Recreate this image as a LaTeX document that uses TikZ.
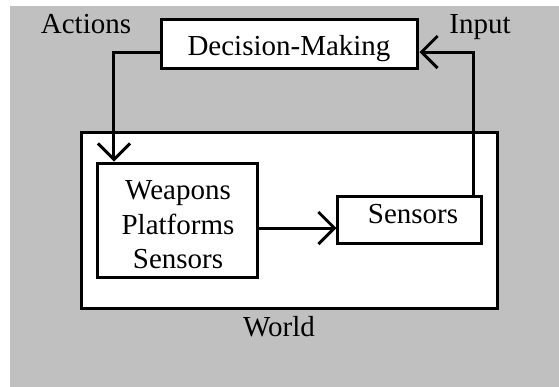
\documentclass[tikz,border=0pt]{standalone}
\usepackage{fontspec}
\setmainfont{Liberation Serif}
\usetikzlibrary{arrows.meta}
\definecolor{bggray}{RGB}{192,192,192}
\begin{document}
\begin{tikzpicture}[x=0.5pt,y=-0.5pt,
  box/.style={draw,line width=1.5pt,fill=white,inner sep=0pt,rectangle},
  lbl/.style={inner sep=0pt,anchor=base,font=\fontsize{14.5}{17.25}\selectfont},
  arr/.style={line width=1.5pt,-{Straight Barb[length=8pt,width=16pt,line width=1.5pt]}}]
\useasboundingbox (0,0) rectangle (559,387);
\fill[bggray] (10,6) rectangle (559,387);
% boxes
\node[box,minimum width=208pt,minimum height=88pt] (world) at (290,220) {};
\node[box,minimum width=80pt,minimum height=57pt] (weap) at (178,220) {};
\node[box,minimum width=72pt,minimum height=23.5pt] (sens) at (410,219.5) {};
\node[box,minimum width=128pt,minimum height=24.5pt] (dec) at (290,43.5) {};
% texts
\node[lbl] (tdec) at (289,55.7) {Decision-Making};
\node[lbl] (tact) at (86,33) {Actions};
\node[lbl] (tinp) at (480,33) {Input};
\node[lbl] (tsens) at (413,223) {Sensors};
\node[lbl] (tworld) at (279,336) {World};
\node[lbl,anchor=north,align=center] (tweap) at (178,180.5) {Weapons\\Platforms\\Sensors};
% connectors
\coordinate (a1) at (114,52);
\coordinate (a2) at (474,52);
\coordinate (a3) at (0,228);
\draw[arr] (dec.west |- a1) -| (weap.north -| a1);
\draw[arr] (sens.north -| a2) |- (dec.east |- a2);
\draw[arr] (weap.east |- a3) -- (sens.west |- a3);
\end{tikzpicture}
\end{document}
